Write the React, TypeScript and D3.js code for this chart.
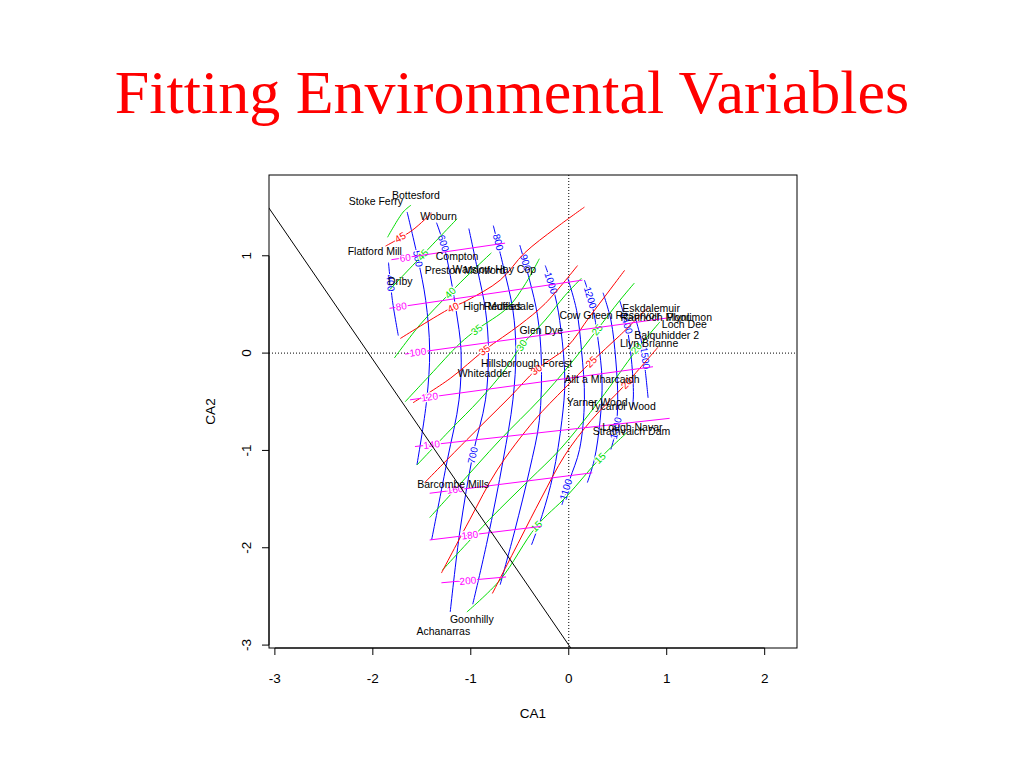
import React from 'react';
import * as d3 from 'd3';

type Pt = [number, number];
interface Contour { level: number; pts: Pt[]; labels: Pt[] }

// Plot extents (CA1 / CA2)
const xDomain: Pt = [-3.06, 2.33];
const yDomain: Pt = [-3.03, 1.83];
const xTicks = [-3, -2, -1, 0, 1, 2];
const yTicks = [-3, -2, -1, 0, 1];

// Site scores: name, CA1, CA2
const sites: [string, number, number][] = [
  ['Stoke Ferry', -1.97, 1.56],
  ['Bottesford', -1.56, 1.62],
  ['Woburn', -1.33, 1.41],
  ['Flatford Mill', -1.98, 1.05],
  ['Compton', -1.14, 0.99],
  ['Warslow Hay Cop', -0.76, 0.86],
  ['Preston Montford', -1.06, 0.85],
  ['Driby', -1.72, 0.74],
  ['High Muffles', -0.78, 0.48],
  ['Redesdale', -0.61, 0.48],
  ['Cow Green Reservoir', 0.42, 0.39],
  ['Eskdalemuir', 0.84, 0.46],
  ['Rannoch Moor', 0.88, 0.37],
  ['Plynlimon', 1.23, 0.37],
  ['Loch Dee', 1.18, 0.3],
  ['Balquhidder 2', 1.0, 0.18],
  ['Llyn Brianne', 0.82, 0.1],
  ['Glen Dye', -0.28, 0.23],
  ['Hillsborough Forest', -0.43, -0.11],
  ['Whiteadder', -0.86, -0.21],
  ['Allt a Mharcaidh', 0.34, -0.27],
  ['Yarner Wood', 0.29, -0.51],
  ['Tycanol Wood', 0.55, -0.55],
  ['Lough Navar', 0.65, -0.76],
  ['Strathvaich Dam', 0.64, -0.8],
  ['Barcombe Mills', -1.18, -1.35],
  ['Goonhilly', -0.99, -2.74],
  ['Achanarras', -1.28, -2.86],
];

// Fitted vector line
const fittedLine: Pt[] = [[-3.2, 1.695], [0.05, -3.073]];

// Blue contours
const blueContours: Contour[] = [
  { level: 400, pts: [[-1.84, 0.93], [-1.8, 0.54], [-1.74, 0.18]], labels: [[-1.82, 0.72]] },
  { level: 500, pts: [[-1.65, 1.45], [-1.54, 0.97], [-1.46, 0.54], [-1.42, 0.03], [-1.45, -0.48], [-1.55, -1.15]], labels: [[-1.54, 0.97]] },
  { level: 600, pts: [[-1.35, 1.34], [-1.28, 1.13], [-1.21, 0.8], [-1.15, 0.44], [-1.1, 0.03], [-1.12, -0.48], [-1.24, -1.1], [-1.4, -1.92]], labels: [[-1.28, 1.13]] },
  { level: 700, pts: [[-1.02, 1.28], [-0.93, 0.85], [-0.85, 0.44], [-0.82, 0.03], [-0.85, -0.48], [-0.98, -1.05], [-1.11, -1.82], [-1.21, -2.66]], labels: [[-0.98, -1.05]] },
  { level: 800, pts: [[-0.77, 1.31], [-0.67, 0.9], [-0.57, 0.44], [-0.54, 0.03], [-0.57, -0.48], [-0.67, -1.1], [-0.83, -1.92], [-0.98, -2.58]], labels: [[-0.72, 1.14]] },
  { level: 900, pts: [[-0.5, 1.11], [-0.4, 0.75], [-0.32, 0.39], [-0.28, -0.07], [-0.3, -0.69], [-0.4, -1.2], [-0.55, -1.82], [-0.7, -2.38]], labels: [[-0.44, 0.93]] },
  { level: 1000, pts: [[-0.24, 0.9], [-0.14, 0.59], [-0.08, 0.24], [-0.04, -0.28], [-0.07, -0.69], [-0.16, -1.25], [-0.27, -1.66], [-0.38, -1.97]], labels: [[-0.18, 0.72]] },
  { level: 1100, pts: [[-0.01, 0.77], [0.08, 0.44], [0.13, 0.03], [0.16, -0.48], [0.11, -0.99], [0.01, -1.3], [-0.07, -1.56]], labels: [[-0.03, -1.4]] },
  { level: 1200, pts: [[0.16, 0.75], [0.24, 0.49], [0.3, 0.13], [0.34, -0.28], [0.32, -0.69], [0.26, -1.1], [0.19, -1.33]], labels: [[0.22, 0.57]] },
  { level: 1300, pts: [[0.35, 0.62], [0.43, 0.34], [0.48, -0.07], [0.5, -0.48], [0.48, -0.79], [0.43, -0.99]], labels: [[0.48, -0.77]] },
  { level: 1400, pts: [[0.52, 0.54], [0.59, 0.29], [0.64, -0.07], [0.66, -0.43], [0.65, -0.56]], labels: [[0.59, 0.31]] },
  { level: 1500, pts: [[0.68, 0.36], [0.74, 0.13], [0.78, -0.17], [0.81, -0.46]], labels: [[0.78, -0.05]] },
];

// Green contours
const greenContours: Contour[] = [
  { level: 50, pts: [[-1.85, 1.19], [-1.69, 1.45], [-1.61, 1.52]], labels: [] },
  { level: 45, pts: [[-1.83, 0.65], [-1.49, 1.01], [-1.14, 1.38]], labels: [[-1.49, 1.01]] },
  { level: 40, pts: [[-1.78, -0.05], [-1.52, 0.29], [-1.21, 0.62], [-1.01, 0.82], [-0.79, 1.03]], labels: [[-1.21, 0.62]] },
  { level: 35, pts: [[-1.67, -0.5], [-1.42, -0.23], [-1.11, 0.1], [-0.94, 0.24], [-0.62, 0.47], [-0.45, 0.7], [-0.3, 0.97]], labels: [[-0.94, 0.24]] },
  { level: 30, pts: [[-1.55, -1.15], [-1.21, -0.79], [-0.91, -0.48], [-0.65, -0.17], [-0.48, 0.08], [-0.24, 0.34], [-0.04, 0.59], [0.13, 0.77]], labels: [[-0.48, 0.08]] },
  { level: 25, pts: [[-1.42, -1.69], [-1.14, -1.38], [-0.7, -0.89], [-0.3, -0.48], [0.01, -0.12], [0.29, 0.24], [0.52, 0.54], [0.67, 0.72]], labels: [[0.29, 0.24]] },
  { level: 20, pts: [[-1.29, -2.23], [-0.81, -1.71], [-0.4, -1.3], [-0.09, -0.99], [0.32, -0.48], [0.69, 0.03], [0.93, 0.32]], labels: [[0.69, 0.05]] },
  { level: 15, pts: [[-1.04, -2.66], [-0.7, -2.33], [-0.33, -1.78], [-0.02, -1.47], [0.32, -1.08], [0.59, -0.82]], labels: [[-0.33, -1.78], [0.32, -1.08]] },
];

// Red contours
const redContours: Contour[] = [
  { level: 45, pts: [[-1.87, 1.1], [-1.6, 1.26], [-1.4, 1.44]], labels: [[-1.72, 1.19]] },
  { level: 40, pts: [[-1.72, 0.15], [-1.21, 0.46], [-1.04, 0.54], [-0.7, 0.75], [-0.45, 1.03], [-0.14, 1.28], [0.16, 1.5]], labels: [[-1.18, 0.47]] },
  { level: 35, pts: [[-1.59, -0.51], [-1.21, -0.26], [-0.86, 0.03], [-0.5, 0.29], [-0.24, 0.51], [0.09, 0.9]], labels: [[-0.86, 0.03]] },
  { level: 30, pts: [[-1.47, -1.33], [-1.04, -0.89], [-0.6, -0.45], [-0.33, -0.17], [-0.02, 0.06], [0.21, 0.37], [0.42, 0.65], [0.57, 0.85]], labels: [[-0.33, -0.17]] },
  { level: 25, pts: [[-1.3, -2.26], [-1.01, -1.71], [-0.73, -1.2], [-0.35, -0.69], [-0.04, -0.36], [0.23, -0.09], [0.52, 0.18], [0.81, 0.47]], labels: [[0.23, -0.09]] },
  { level: 20, pts: [[-0.78, -2.47], [-0.5, -1.92], [-0.28, -1.49], [-0.04, -1.05], [0.23, -0.69], [0.59, -0.31], [0.91, 0.06]], labels: [[0.59, -0.31]] },
];

// Magenta contours
const magentaContours: Contour[] = [
  { level: 60, pts: [[-1.81, 0.96], [-0.65, 1.13]], labels: [[-1.67, 0.98]] },
  { level: 80, pts: [[-1.83, 0.46], [0.14, 0.75]], labels: [[-1.71, 0.48]] },
  { level: 100, pts: [[-1.67, -0.01], [1.0, 0.36]], labels: [[-1.54, 0.01]] },
  { level: 120, pts: [[-1.62, -0.48], [0.86, -0.14]], labels: [[-1.42, -0.45]] },
  { level: 140, pts: [[-1.57, -0.96], [1.03, -0.67]], labels: [[-1.4, -0.94]] },
  { level: 160, pts: [[-1.42, -1.44], [0.24, -1.23]], labels: [[-1.16, -1.4]] },
  { level: 180, pts: [[-1.42, -1.92], [-0.28, -1.78]], labels: [[-1.01, -1.87]] },
  { level: 200, pts: [[-1.3, -2.36], [-0.64, -2.3]], labels: [[-1.03, -2.34]] },
];

const families: { color: string; data: Contour[] }[] = [
  { color: '#0000ff', data: blueContours },
  { color: '#00dd00', data: greenContours },
  { color: '#ff0000', data: redContours },
  { color: '#ff00ff', data: magentaContours },
];

const SANS = 'Liberation Sans, Arial, Helvetica, sans-serif';

export default function App() {
  const x = d3.scaleLinear().domain(xDomain).range([269, 797]);
  const y = d3.scaleLinear().domain(yDomain).range([648, 175]);
  const [bx0, bx1] = x.range();
  const [by1, by0] = y.range();

  const line = d3
    .line<Pt>()
    .x((d) => x(d[0]))
    .y((d) => y(d[1]))
    .curve(d3.curveCatmullRom.alpha(0.5));

  const labelAngle = (pts: Pt[], p: Pt) => {
    const px = x(p[0]);
    const py = y(p[1]);
    let best = 0;
    let bestD = Infinity;
    for (let i = 0; i < pts.length - 1; i++) {
      const mx = (x(pts[i][0]) + x(pts[i + 1][0])) / 2;
      const my = (y(pts[i][1]) + y(pts[i + 1][1])) / 2;
      const dd = (mx - px) ** 2 + (my - py) ** 2;
      if (dd < bestD) {
        bestD = dd;
        best = i;
      }
    }
    const dx = x(pts[best + 1][0]) - x(pts[best][0]);
    const dy = y(pts[best + 1][1]) - y(pts[best][1]);
    let a = (Math.atan2(dy, dx) * 180) / Math.PI;
    if (a > 90) a -= 180;
    if (a <= -90) a += 180;
    return a;
  };

  return (
    <svg
      width={1024}
      height={768}
      style={{ position: 'absolute', left: 0, top: 0, background: '#fff' }}
    >
      <rect x={0} y={0} width={1024} height={768} fill="#fff" />
      <text
        x={512}
        y={113}
        textAnchor="middle"
        fill="#ff0000"
        fontFamily="Liberation Serif, Times New Roman, serif"
        fontSize={62}
      >
        Fitting Environmental Variables
      </text>

      <defs>
        <clipPath id="plotclip">
          <rect x={bx0} y={by0} width={bx1 - bx0} height={by1 - by0} />
        </clipPath>
      </defs>

      <g clipPath="url(#plotclip)">
        {/* reference lines */}
        <line x1={x(0)} x2={x(0)} y1={by0} y2={by1} stroke="#000" strokeWidth={1} strokeDasharray="1,2" />
        <line x1={bx0} x2={bx1} y1={y(0)} y2={y(0)} stroke="#000" strokeWidth={1} strokeDasharray="1,2" />

        {families.map((f, fi) => (
          <g key={fi}>
            {f.data.map((c, ci) => (
              <path key={ci} d={line(c.pts) || ''} fill="none" stroke={f.color} strokeWidth={1} />
            ))}
            {f.data.map((c, ci) =>
              c.labels.map((lp, li) => (
                <text
                  key={`${ci}-${li}`}
                  transform={`translate(${x(lp[0])},${y(lp[1])}) rotate(${labelAngle(c.pts, lp)})`}
                  textAnchor="middle"
                  dy="0.35em"
                  fontFamily={SANS}
                  fontSize={10}
                  fill={f.color}
                  stroke="#fff"
                  strokeWidth={2.5}
                  paintOrder="stroke"
                >
                  {c.level}
                </text>
              ))
            )}
          </g>
        ))}

        <line
          x1={x(fittedLine[0][0])}
          y1={y(fittedLine[0][1])}
          x2={x(fittedLine[1][0])}
          y2={y(fittedLine[1][1])}
          stroke="#000"
          strokeWidth={1}
        />

        {sites.map(([name, sx, sy], i) => (
          <text
            key={i}
            x={x(sx)}
            y={y(sy)}
            dy="0.35em"
            textAnchor="middle"
            fontFamily={SANS}
            fontSize={10.5}
            fill="#000"
          >
            {name}
          </text>
        ))}
      </g>

      {/* box */}
      <rect x={bx0} y={by0} width={bx1 - bx0} height={by1 - by0} fill="none" stroke="#000" strokeWidth={1} />

      {/* x axis */}
      <line x1={x(xTicks[0])} x2={x(xTicks[xTicks.length - 1])} y1={by1} y2={by1} stroke="#000" />
      {xTicks.map((t) => (
        <g key={t}>
          <line x1={x(t)} x2={x(t)} y1={by1} y2={by1 + 7} stroke="#000" />
          <text x={x(t)} y={678} dy="0.35em" textAnchor="middle" fontFamily={SANS} fontSize={13.5}>
            {t}
          </text>
        </g>
      ))}
      <text x={(bx0 + bx1) / 2} y={713} dy="0.35em" textAnchor="middle" fontFamily={SANS} fontSize={13.5}>
        CA1
      </text>

      {/* y axis */}
      <line x1={bx0} x2={bx0} y1={y(yTicks[0])} y2={y(yTicks[yTicks.length - 1])} stroke="#000" />
      {yTicks.map((t) => (
        <g key={t}>
          <line x1={bx0 - 7} x2={bx0} y1={y(t)} y2={y(t)} stroke="#000" />
          <text
            transform={`translate(246,${y(t)}) rotate(-90)`}
            dy="0.35em"
            textAnchor="middle"
            fontFamily={SANS}
            fontSize={13.5}
          >
            {t}
          </text>
        </g>
      ))}
      <text
        transform={`translate(210,${(by0 + by1) / 2}) rotate(-90)`}
        dy="0.35em"
        textAnchor="middle"
        fontFamily={SANS}
        fontSize={13.5}
      >
        CA2
      </text>
    </svg>
  );
}
